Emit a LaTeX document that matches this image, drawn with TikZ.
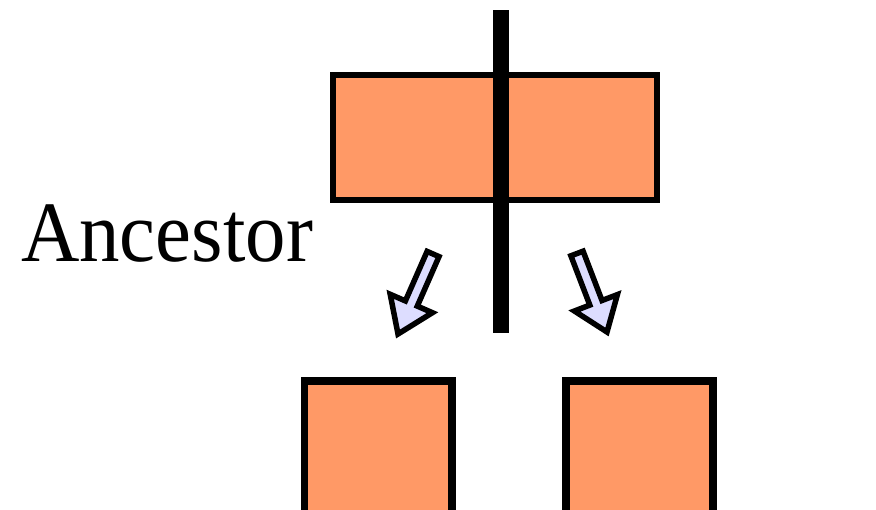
\documentclass[tikz,border=0pt]{standalone}
\usepackage{fontspec}
\setmainfont{Liberation Serif}
\definecolor{boxfill}{RGB}{255,153,102}
\definecolor{arrfill}{RGB}{221,221,255}
\begin{document}
\begin{tikzpicture}[x=1pt,y=-1pt,
  orangebox/.style={draw=black,fill=boxfill,inner sep=0pt,outer sep=0pt,rectangle},
  blockarrow/.style={draw=black,fill=arrfill,line width=5.5pt,line join=miter}]
\clip (0,0) rectangle (876,509);
\fill[white] (0,0) rectangle (876,509);
% top box
\node[orangebox,line width=6pt,minimum width=324pt,minimum height=125pt] (top) at (495,137.5) {};
% divider
\coordinate (vtop) at (500.5,10);
\coordinate (vbot) at (500.5,333);
\draw[line width=16pt] (vtop) -- (vbot);
% bottom boxes
\node[orangebox,line width=7.7pt,minimum width=147.5pt,minimum height=139pt] (botL) at (378.3,450.5) {};
\node[orangebox,line width=7.7pt,minimum width=147.5pt,minimum height=139pt] (botR) at (639.5,450.5) {};
% block arrows
\draw[blockarrow] (439.0,256.6) -- (417.3,306.1) -- (432.4,312.7) -- (398,334) -- (390.2,294.3) -- (405.4,300.9) -- (427.1,251.4) -- cycle;
\draw[blockarrow] (583.1,251.2) -- (602.0,300.5) -- (617.4,294.6) -- (607,332) -- (574.4,311.0) -- (589.8,305.1) -- (570.9,255.8) -- cycle;
% label
\node[anchor=base west,inner sep=0pt,font=\fontsize{86}{86}\selectfont,xscale=0.94] (lab) at (21,261) {Ancestor};
\end{tikzpicture}
\end{document}
